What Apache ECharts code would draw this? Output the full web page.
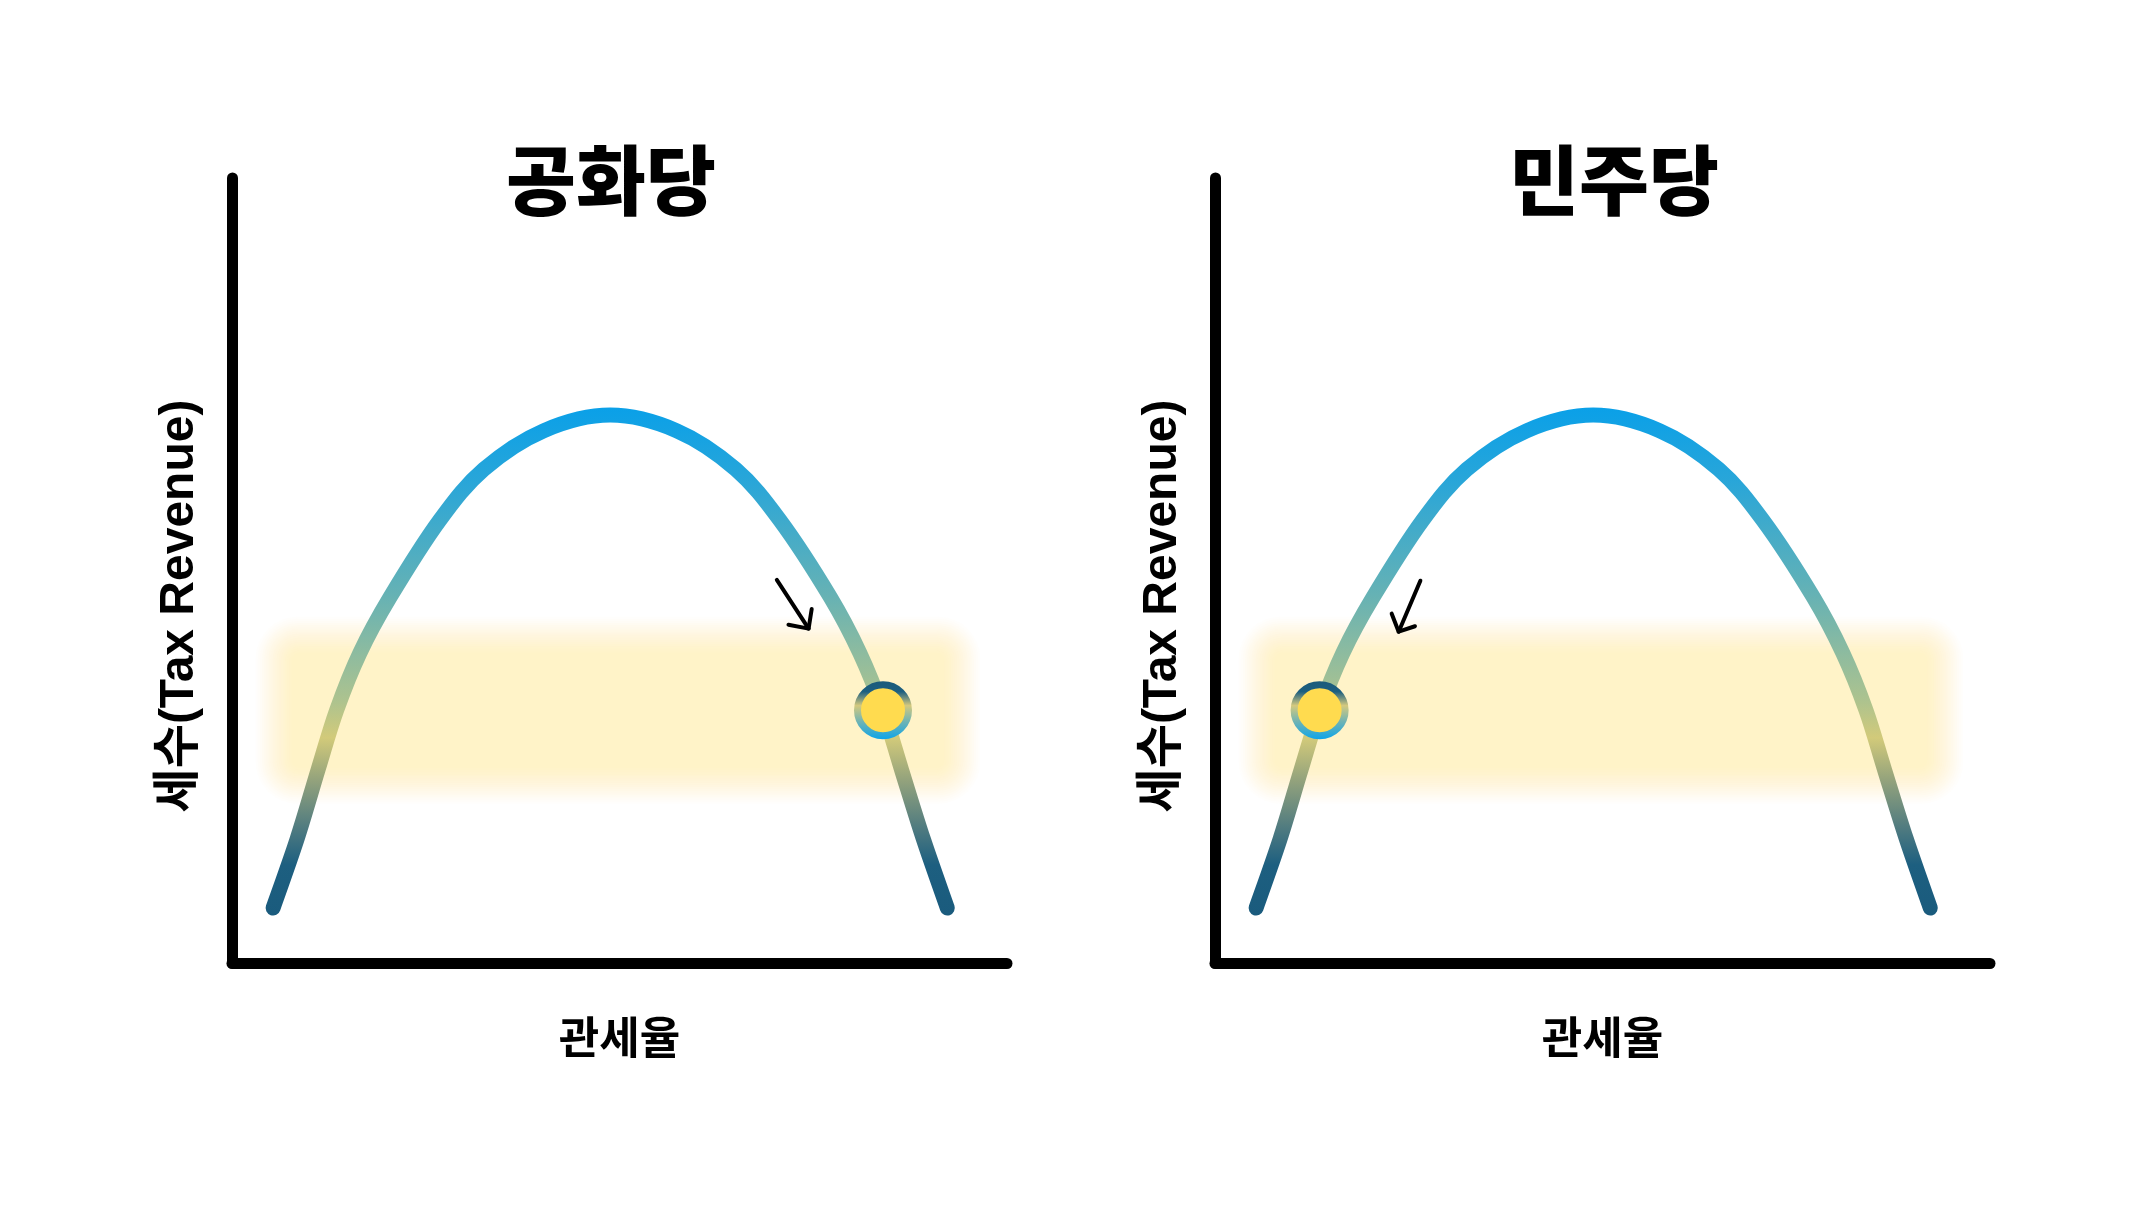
<!DOCTYPE html>
<html><head><meta charset="utf-8">
<script src="https://cdn.jsdelivr.net/npm/echarts@6/dist/echarts.min.js"></script>
<style>html,body{margin:0;padding:0;background:#fff}#chart{width:2148px;height:1208px}</style>
</head><body><div id="chart"></div>
<script>
// ---- data ----
const panelTitles = ['공화당', '민주당'];
const xAxisName = '관세율';
const yAxisName = '세수(Tax Revenue)';
const tariffRate = [5.3, 8.4, 11.1, 13.5, 16.5, 20.4, 26.8, 32.5, 40.2, 48.8, 57.4, 65.0, 70.7, 77.2, 81.0, 84.0, 86.4, 89.2, 92.3];
const taxRevenue = [7.0, 15.8, 24.6, 32.2, 39.5, 46.6, 56.4, 62.9, 67.8, 69.8, 67.8, 62.9, 56.4, 46.6, 39.5, 32.2, 24.6, 15.8, 7.0];
const currentRate = [84.0, 13.5];      // [공화당, 민주당]
const currentRevenue = [32.2, 32.2];
const bandRate = [5.5, 94.1];
const bandRevenue = [22.7, 41.7];
const arrowShaft = [
  [[70.3, 48.8], [74.4, 42.6]],
  [[26.5, 48.7], [23.7, 42.2]]
];
const arrowHead = [
  [[74.8, 45.1], [74.4, 42.6], [71.8, 43.1]],
  [[22.8, 44.5], [23.7, 42.2], [25.8, 42.9]]
];

// ---- chart ----
const chart = echarts.init(document.getElementById('chart'), null, {renderer: 'canvas'});
const gridLefts = [232, 1215];
const titleX = [611, 1614];

const curveGradient = {
  type: 'linear', x: 0, y: 0, x2: 0, y2: 1,
  colorStops: [
    {offset: 0, color: '#0aa0e8'},
    {offset: 0.15, color: '#2aa6d8'},
    {offset: 0.37, color: '#66b2b4'},
    {offset: 0.48, color: '#8cbba0'},
    {offset: 0.58, color: '#aec38e'},
    {offset: 0.65, color: '#d2ca7a'},
    {offset: 0.73, color: '#96a47c'},
    {offset: 0.83, color: '#4e7a80'},
    {offset: 0.9, color: '#1d5f80'},
    {offset: 1, color: '#1a5b7d'}
  ]
};
const ringGradient = {
  type: 'linear', x: 0, y: 0, x2: 0, y2: 1,
  colorStops: [
    {offset: 0, color: '#1b5b7b'},
    {offset: 0.18, color: '#1d5f80'},
    {offset: 0.42, color: '#d4c97e'},
    {offset: 0.7, color: '#6eb3b4'},
    {offset: 1, color: '#0ea5e9'}
  ]
};

function bandRender(params, api) {
  const p0 = api.coord([api.value(0), api.value(3)]);
  const p1 = api.coord([api.value(2), api.value(1)]);
  const N = 18, F = 38, step = F / N;
  const children = [];
  for (let i = 0; i < N; i++) {
    const inset = -F / 2 + i * step;
    children.push({
      type: 'rect',
      shape: {x: p0[0] + inset, y: p0[1] + inset, width: (p1[0] - p0[0]) - 2 * inset, height: (p1[1] - p0[1]) - 2 * inset, r: Math.max(4, 42 - i * 2)},
      style: {fill: 'rgba(255,243,200,' + (1 / (N - i)).toFixed(4) + ')'}
    });
  }
  return {type: 'group', children};
}

// smooth curve through the read points (Catmull-Rom as cubic Bézier), positioned by the axes
function curveRender(params, api) {
  if (params.dataIndex !== 0) return null;
  const pts = [];
  for (let k = 0; k < tariffRate.length; k++) pts.push(api.coord([tariffRate[k], taxRevenue[k]]));
  let d = 'M' + pts[0][0] + ' ' + pts[0][1];
  for (let k = 0; k < pts.length - 1; k++) {
    const p0 = pts[Math.max(0, k - 1)], p1 = pts[k], p2 = pts[k + 1], p3 = pts[Math.min(pts.length - 1, k + 2)];
    const c1 = [p1[0] + (p2[0] - p0[0]) / 6, p1[1] + (p2[1] - p0[1]) / 6];
    const c2 = [p2[0] - (p3[0] - p1[0]) / 6, p2[1] - (p3[1] - p1[1]) / 6];
    d += ' C' + c1[0] + ' ' + c1[1] + ' ' + c2[0] + ' ' + c2[1] + ' ' + p2[0] + ' ' + p2[1];
  }
  return {
    type: 'path', shape: {pathData: d},
    style: {fill: 'none', stroke: curveGradient, lineWidth: 15, lineCap: 'round', lineJoin: 'round'}
  };
}

const grids = [], xAxes = [], yAxes = [], series = [], graphics = [];
for (let i = 0; i < 2; i++) {
  grids.push({left: gridLefts[i], top: 178, width: 775, height: 785});
  xAxes.push({
    gridIndex: i, type: 'value', min: 0, max: 100,
    name: xAxisName, nameLocation: 'middle', nameGap: 52,
    nameTextStyle: {fontSize: 44, fontWeight: 'bold', color: '#000', fontFamily: '"Noto Sans CJK KR", sans-serif'},
    axisLine: {show: true, lineStyle: {color: '#000', width: 11, cap: 'round'}},
    axisTick: {show: false}, axisLabel: {show: false}, splitLine: {show: false}
  });
  yAxes.push({
    gridIndex: i, type: 'value', min: 0, max: 100,
    axisLine: {show: true, onZero: false, lineStyle: {color: '#000', width: 11, cap: 'round'}},
    axisTick: {show: false}, axisLabel: {show: false}, splitLine: {show: false}
  });
  series.push({
    type: 'custom', xAxisIndex: i, yAxisIndex: i, z: 1, silent: true,
    renderItem: bandRender,
    data: [[bandRate[0], bandRevenue[0], bandRate[1], bandRevenue[1]]]
  });
  series.push({
    type: 'custom', xAxisIndex: i, yAxisIndex: i, z: 3, silent: true, clip: false,
    renderItem: curveRender,
    data: tariffRate.map((x, k) => [x, taxRevenue[k]])
  });
  series.push({
    type: 'line', xAxisIndex: i, yAxisIndex: i, z: 4, silent: true, symbol: 'none',
    lineStyle: {width: 4, color: '#000', cap: 'round', join: 'round'},
    data: arrowShaft[i]
  });
  series.push({
    type: 'line', xAxisIndex: i, yAxisIndex: i, z: 4, silent: true, symbol: 'none',
    lineStyle: {width: 4, color: '#000', cap: 'round', join: 'round'},
    data: arrowHead[i]
  });
  series.push({
    type: 'scatter', xAxisIndex: i, yAxisIndex: i, z: 5, silent: true,
    symbol: 'circle', symbolSize: 51,
    itemStyle: {color: '#ffdb4f', borderWidth: 7, borderColor: ringGradient, opacity: 1},
    data: [[currentRate[i], currentRevenue[i]]]
  });
  graphics.push({
    type: 'text', x: titleX[i], y: 180, z: 10,
    style: {text: panelTitles[i], fontSize: 76, fontWeight: 900, fontFamily: '"Noto Sans CJK KR", sans-serif', fill: '#000', align: 'center', verticalAlign: 'middle'}
  });
  graphics.push({
    type: 'text', x: gridLefts[i] - 52, y: 606, rotation: Math.PI / 2, z: 10,
    style: {text: yAxisName, fontSize: 48, fontWeight: 'bold', fontFamily: '"Liberation Sans", "Noto Sans CJK KR", sans-serif', fill: '#000', align: 'center', verticalAlign: 'middle'}
  });
}

chart.setOption({
  backgroundColor: '#ffffff',
  animation: false,
  grid: grids, xAxis: xAxes, yAxis: yAxes, series: series, graphic: graphics
});
</script></body></html>
